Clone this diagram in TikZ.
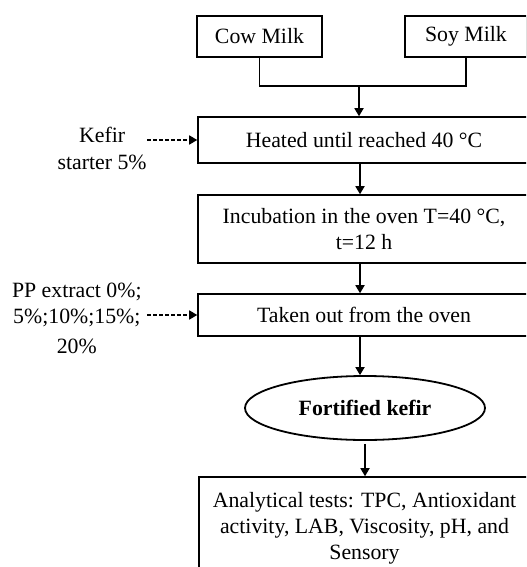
\documentclass[tikz,border=0pt]{standalone}
\usepackage{fontspec}
\setmainfont{Liberation Serif}
\usetikzlibrary{arrows.meta,shapes.geometric}
\begin{document}
\begin{tikzpicture}[x=0.5pt,y=-0.5pt,
  font=\fontsize{10.9}{13}\selectfont,
  box/.style={draw,line width=0.8pt,inner sep=0pt,align=center},
  arr/.style={line width=0.55pt,-{Triangle[length=4pt,width=4.6pt]}},
  darr/.style={line width=0.55pt,dash pattern=on 2pt off 1pt,-{Triangle[length=4pt,width=4.6pt]}},
  lbl/.style={align=center,inner sep=0pt}]
\useasboundingbox (0,0) rectangle (526,567);
\clip (0,0) rectangle (526,567);
\node[box,minimum width=62.5pt,minimum height=20.5pt] (cow) at (259.5,36.5) {Cow Milk};
\node[box,minimum width=61pt,minimum height=20.5pt] (soy) at (466,36.5) {Soy Milk};
\node[box,minimum width=166pt,minimum height=23pt] (heat) at (364,140) {Heated until reached 40 °C};
\node[box,minimum width=166pt,minimum height=34pt] (inc) at (364,229) {Incubation in the oven T=40 °C,\\ t=12 h};
\node[box,minimum width=166pt,minimum height=21pt] (take) at (364,315) {Taken out from the oven};
\node[draw,ellipse,line width=0.9pt,inner sep=0pt,minimum width=120pt,minimum height=32pt,font=\fontsize{10.9}{13}\selectfont\bfseries] (fk) at (365,408) {Fortified kefir};
\node[box,minimum width=165.5pt,minimum height=51.5pt] (ana) at (364.5,528.5) {Analytical tests: TPC, Antioxidant\\ activity, LAB, Viscosity, pH, and\\ Sensory};
\node[lbl,anchor=east] (kef) at (147,148) {Kefir\\[0.5pt] starter 5\%};
\node[lbl,anchor=east] (pp) at (142,318) {PP extract 0\%;\\ 5\%;10\%;15\%;\\[2pt] 20\%};
\coordinate (join) at (359,86);
\coordinate (sp) at (360,0);
\draw[line width=0.55pt] (cow.south) |- (join) -| (soy.south);
\draw[arr] (join) -- (join |- heat.north);
\draw[arr] (heat.south -| sp) -- (inc.north -| sp);
\draw[arr] (inc.south -| sp) -- (take.north -| sp);
\draw[arr] (take.south -| sp) -- (fk.north -| sp);
\draw[arr,shorten <=1.5pt] (fk.south) -- (ana.north -| fk.south);
\draw[darr] (kef.east |- heat.west) -- (heat.west);
\draw[darr] (kef.east |- take.west) -- (take.west);
\end{tikzpicture}
\end{document}
